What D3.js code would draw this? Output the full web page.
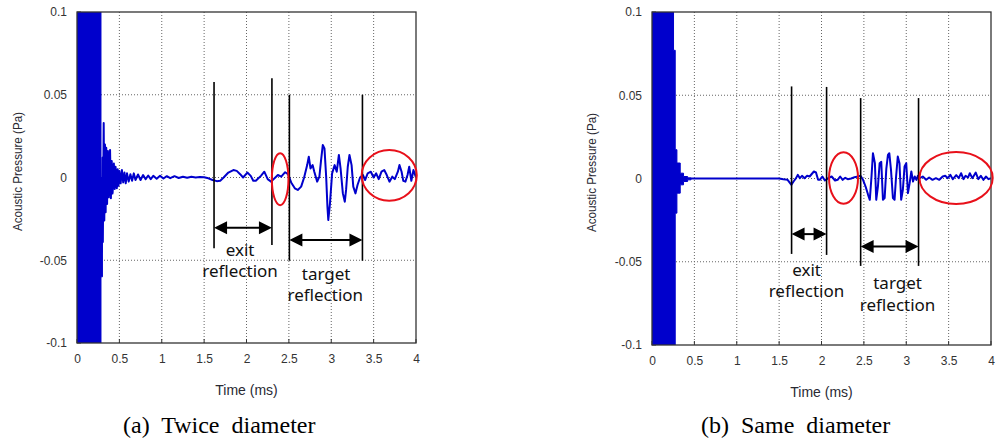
<!DOCTYPE html>
<html>
<head>
<meta charset="utf-8">
<title>Acoustic pressure</title>
<style>
  body { margin: 0; padding: 0; background: #fff; overflow: hidden; }
  svg { display: block; }
  .axis text { font-family: Arial, "Liberation Sans", sans-serif; font-size: 12px; fill: #333; }
  .axis path { display: none; }
  .axis-title { font-family: Arial, "Liberation Sans", sans-serif; fill: #2a2a33; }
  .note { font-family: "Noto Sans", sans-serif; font-size: 17px; fill: #111; }
  .caption { font-family: "Liberation Serif", "Times New Roman", serif; font-size: 24px; fill: #000; }
</style>
</head>
<body>
<div id="container"></div>
<script src="https://d3js.org/d3.v7.min.js"></script>
<script>
var width = 999, height = 442;

var xTicks = [0, 0.5, 1, 1.5, 2, 2.5, 3, 3.5, 4];
var yTicks = [-0.1, -0.05, 0, 0.05, 0.1];

// (a) twice diameter: saturated burst envelope, then the trace (t in ms, p in Pa)
var burstA_t  = [0, 0.283, 0.283, 0.30];
var burstA_hi = [0.12, 0.12, 0.0, 0.0];
var burstA_lo = [-0.12, -0.12, -0.06, -0.039];

var waveA_t = [0.285, 0.29, 0.30, 0.305, 0.315, 0.322, 0.33, 0.338, 0.345, 0.355, 0.365, 0.375, 0.39, 0.40, 0.41, 0.42,
  0.435, 0.445, 0.455, 0.47, 0.48, 0.49, 0.50, 0.515, 0.53, 0.545, 0.56, 0.575, 0.59, 0.61, 0.63, 0.65, 0.67, 0.69,
  0.72, 0.75, 0.78, 0.81, 0.84, 0.87, 0.9, 0.94, 0.98, 1.02, 1.06, 1.1, 1.15, 1.2, 1.25, 1.3, 1.35, 1.4, 1.45, 1.5,
  1.55, 1.6, 1.65, 1.69, 1.73, 1.786, 1.845, 1.885, 1.925, 1.96, 2.01, 2.05, 2.08, 2.11, 2.17, 2.21, 2.25, 2.29,
  2.34, 2.37, 2.41, 2.456, 2.49, 2.527, 2.57, 2.605, 2.645, 2.68, 2.716, 2.735, 2.755, 2.78, 2.80, 2.834, 2.86,
  2.88, 2.90, 2.92, 2.94, 2.955, 2.965, 2.985, 3.01, 3.04, 3.065, 3.09, 3.11, 3.137, 3.16, 3.175, 3.195, 3.215,
  3.24, 3.26, 3.286, 3.31, 3.34, 3.373, 3.40, 3.43, 3.467, 3.50, 3.53, 3.56, 3.593, 3.625, 3.655, 3.687, 3.72,
  3.75, 3.786, 3.805, 3.83, 3.85, 3.875, 3.90, 3.92, 3.945, 3.97, 4.0];
var waveA_p = [0.0, -0.045, 0.012, -0.039, 0.033, -0.026, 0.02, -0.021, 0.018, -0.016, 0.016, -0.012, 0.0166, -0.0125, 0.010, -0.0096,
  0.0085, -0.007, 0.0065, -0.0065, 0.005, -0.005, 0.004, -0.0035, 0.0045, -0.003, 0.003, -0.0035, 0.0025, -0.0025, 0.002, -0.002, 0.0025, -0.0015,
  0.0018, -0.0015, 0.0015, -0.001, 0.0012, -0.001, 0.001, -0.0008, 0.001, -0.0006, 0.0008, -0.0004, 0.0008, -0.0003, 0.0005, -0.0002, 0.0004, 0, 0.0003, 0.0002,
  -0.0005, -0.0015, -0.0022, -0.002, 0, 0.003, 0.0045, 0.004, 0.002, 0, 0.003, 0.001, -0.002, -0.002, 0.001, 0.0035, -0.001, -0.0025,
  0, 0.0015, 0.0005, 0.0032, 0.002, -0.003, -0.0065, -0.0075, -0.0055, 0, 0.0075, 0.0126, 0.0055, 0.0075, 0.0035, -0.0025, 0.0005,
  0.0105, 0.0196, 0.0176, 0.0005, -0.0176, -0.0257, -0.0156, 0.0025, 0.0075, 0.0035, 0.0136, 0.0055, -0.0096, -0.0146, -0.0075, 0.0065, 0.0136,
  0.0075, -0.0055, -0.0096, -0.0045, 0, 0.0015, -0.0015, 0.0025, 0.0035, 0, 0.0025, -0.001, 0.0035, 0.0045, 0.0015, -0.0025, 0.0005,
  -0.001, 0.0035, 0.0075, 0.0035, -0.002, -0.0025, 0.0015, 0.0065, -0.002, 0.0045, 0];

// (b) same diameter
var burstB_t  = [0, 0.254, 0.274, 0.294, 0.333, 0.372, 0.42, 0.46];
var burstB_hi = [0.12, 0.077, 0.0173, 0.0093, 0.0032, 0.0012, 0.0004, 0];
var burstB_lo = [-0.12, -0.12, -0.0208, -0.0088, -0.0038, -0.0018, -0.0008, 0];

var waveB_t = [0.46, 1.5, 1.55, 1.6, 1.645, 1.67, 1.70, 1.72, 1.745, 1.77, 1.80, 1.83, 1.86, 1.91, 1.935, 1.96, 1.98,
  2.01, 2.04, 2.08, 2.12, 2.16, 2.19, 2.22, 2.25, 2.28, 2.31, 2.35, 2.39, 2.43, 2.46, 2.49, 2.52, 2.55, 2.57, 2.59,
  2.607, 2.63, 2.646, 2.666, 2.686, 2.705, 2.725, 2.745, 2.765, 2.784, 2.80, 2.82, 2.843, 2.862, 2.88, 2.90, 2.92,
  2.94, 2.96, 2.98, 3.0, 3.02, 3.04, 3.06, 3.08, 3.10, 3.12, 3.137, 3.16, 3.195, 3.235, 3.27, 3.31, 3.35, 3.39, 3.43,
  3.46, 3.49, 3.52, 3.55, 3.59, 3.62, 3.647, 3.675, 3.70, 3.73, 3.75, 3.78, 3.82, 3.85, 3.88, 3.91, 3.94, 3.97, 4.0];
var waveB_p = [0, 0, -0.0005, -0.0008, -0.0038, -0.0018, 0.0002, 0.0022, 0.0002, 0.0016, 0.0002, 0.0016, 0.0012, 0.0042, 0.0036, -0.0008, -0.0008,
  0.0012, -0.0012, 0.0002, 0.0012, -0.0012, -0.0008, 0.0012, -0.0008, 0.0004, -0.0004, 0, 0.0008, 0.0012, 0.0016, -0.0008, -0.0048, -0.0098, -0.0128, 0.0012,
  0.0152, 0.0092, -0.0128, -0.0048, 0.0092, 0.010, -0.0128, -0.0118, 0.006, 0.0142, 0.0152, 0.0052, -0.0118, -0.0128, 0.0012, 0.0132, 0.0092,
  -0.0128, -0.0068, 0.0072, 0.0092, -0.0088, -0.0028, 0.0042, -0.0018, 0.0012, -0.0008, 0.0016, 0.0002, 0.0012, -0.0008, 0.0006, -0.0008, 0.0002, -0.0008, 0.0012,
  0.0016, 0.0002, 0.0022, -0.0004, 0.002, 0.0002, 0.0032, -0.0004, 0.0016, 0.0006, 0.0032, 0.0002, 0.0036, -0.0004, 0.0016, -0.0008, 0.0012, -0.0004, 0.0002];

// boundary markers (vertical lines), arrows, labels and red ellipses
var markA_t = [1.617, 2.30, 2.506, 3.368];
var markA_top = [0.0577, 0.060, 0.050, 0.050];
var markA_bot = [-0.0428, -0.0408, -0.0503, -0.0503];
var arrowA_from = [1.617, 2.506], arrowA_to = [2.30, 3.368], arrowA_p = [-0.0303, -0.0378];
var noteA_text = ["exit", "reflection", "target", "reflection"];
var noteA_t = [1.924, 1.924, 2.94, 2.93];
var noteA_p = [-0.0474, -0.0603, -0.0619, -0.0744];
var ringA_t = [2.397, 3.684], ringA_p = [-0.001, 0.0013], ringA_rt = [0.098, 0.325], ringA_rp = [0.0157, 0.0153];

var markB_t = [1.647, 2.06, 2.462, 3.145];
var markB_top = [0.0553, 0.055, 0.0483, 0.0483];
var markB_bot = [-0.0453, -0.0459, -0.0525, -0.0525];
var arrowB_from = [1.647, 2.462], arrowB_to = [2.06, 3.145], arrowB_p = [-0.0334, -0.0409];
var noteB_text = ["exit", "reflection", "target", "reflection"];
var noteB_t = [1.824, 1.822, 2.898, 2.898];
var noteB_p = [-0.0585, -0.0713, -0.0665, -0.0794];
var ringB_t = [2.26, 3.588], ringB_p = [0.0003, 0.0003], ringB_rt = [0.171, 0.432], ringB_rp = [0.0155, 0.0156];

var panels = [
  { id: "a", x0: 77, x1: 416, y0: 12, y1: 343, ylabX: 17, caption: "(a)  Twice  diameter", capX: 123,
    bt: burstA_t, bhi: burstA_hi, blo: burstA_lo, wt: waveA_t, wp: waveA_p,
    mt: markA_t, mtop: markA_top, mbot: markA_bot, af: arrowA_from, ato: arrowA_to, ap: arrowA_p,
    nText: noteA_text, nt: noteA_t, np: noteA_p, rt: ringA_t, rp: ringA_p, rrt: ringA_rt, rrp: ringA_rp },
  { id: "b", x0: 652, x1: 991, y0: 12, y1: 345, ylabX: 591, caption: "(b)  Same  diameter", capX: 701,
    bt: burstB_t, bhi: burstB_hi, blo: burstB_lo, wt: waveB_t, wp: waveB_p,
    mt: markB_t, mtop: markB_top, mbot: markB_bot, af: arrowB_from, ato: arrowB_to, ap: arrowB_p,
    nText: noteB_text, nt: noteB_t, np: noteB_p, rt: ringB_t, rp: ringB_p, rrt: ringB_rt, rrp: ringB_rp }
];

var blue = "#0000cc";

var svg = d3.select("#container").append("svg")
  .attr("width", width)
  .attr("height", height);

var defs = svg.append("defs");

panels.forEach(function (pn) {
  var x = d3.scaleLinear().domain([0, 4]).range([pn.x0, pn.x1]);
  var y = d3.scaleLinear().domain([-0.1, 0.1]).range([pn.y1, pn.y0]);
  var g = svg.append("g");

  defs.append("clipPath").attr("id", "clip-" + pn.id)
    .append("rect")
    .attr("x", pn.x0).attr("y", pn.y0)
    .attr("width", pn.x1 - pn.x0).attr("height", pn.y1 - pn.y0);

  // dotted grid
  g.selectAll(".vgrid").data(xTicks.slice(1, -1)).enter().append("line")
    .attr("x1", function (d) { return x(d); }).attr("x2", function (d) { return x(d); })
    .attr("y1", pn.y0).attr("y2", pn.y1)
    .style("stroke", "#666").style("stroke-width", 1).style("stroke-dasharray", "1,2");
  g.selectAll(".hgrid").data(yTicks.slice(1, -1)).enter().append("line")
    .attr("y1", function (d) { return y(d); }).attr("y2", function (d) { return y(d); })
    .attr("x1", pn.x0).attr("x2", pn.x1)
    .style("stroke", "#666").style("stroke-width", 1).style("stroke-dasharray", "1,2");

  // axes labels
  g.append("g").attr("class", "axis")
    .attr("transform", "translate(0," + pn.y1 + ")")
    .call(d3.axisBottom(x).tickValues(xTicks).tickSize(0).tickPadding(11)
      .tickFormat(function (d) { return String(d); }));
  g.append("g").attr("class", "axis")
    .attr("transform", "translate(" + pn.x0 + ",0)")
    .call(d3.axisLeft(y).tickValues(yTicks).tickSize(0).tickPadding(10)
      .tickFormat(function (d) { return String(d); }));

  // short inner ticks
  g.selectAll(".ytk").data(yTicks).enter().append("line")
    .attr("x1", pn.x0).attr("x2", pn.x0 + 4)
    .attr("y1", function (d) { return y(d); }).attr("y2", function (d) { return y(d); })
    .style("stroke", "#333");
  g.selectAll(".xtk").data(xTicks).enter().append("line")
    .attr("y1", pn.y1).attr("y2", pn.y1 - 4)
    .attr("x1", function (d) { return x(d); }).attr("x2", function (d) { return x(d); })
    .style("stroke", "#333");

  // signal
  var plot = g.append("g").attr("clip-path", "url(#clip-" + pn.id + ")");
  var burst = pn.bt.map(function (t, i) { return { t: t, hi: pn.bhi[i], lo: pn.blo[i] }; });
  plot.append("path")
    .datum(burst)
    .attr("d", d3.area().curve(d3.curveStepAfter)
      .x(function (d) { return x(d.t); })
      .y0(function (d) { return y(d.lo); })
      .y1(function (d) { return y(d.hi); }))
    .style("fill", blue).style("stroke", blue).style("stroke-width", 1);

  var wave = pn.wt.map(function (t, i) { return { t: t, p: pn.wp[i] }; });
  plot.append("path")
    .datum(wave)
    .attr("d", d3.line()
      .x(function (d) { return x(d.t); })
      .y(function (d) { return y(d.p); }))
    .style("fill", "none").style("stroke", blue).style("stroke-width", 2)
    .style("stroke-linejoin", "round");

  // frame
  g.append("rect")
    .attr("x", pn.x0).attr("y", pn.y0)
    .attr("width", pn.x1 - pn.x0).attr("height", pn.y1 - pn.y0)
    .style("fill", "none").style("stroke", "#333").style("stroke-width", 1.3);

  // annotations
  g.selectAll(".mark").data(pn.mt).enter().append("line")
    .attr("x1", function (d) { return x(d); }).attr("x2", function (d) { return x(d); })
    .attr("y1", function (d, i) { return y(pn.mtop[i]); })
    .attr("y2", function (d, i) { return y(pn.mbot[i]); })
    .style("stroke", "#000").style("stroke-width", 1.6);

  pn.af.forEach(function (t0, i) {
    var xa = x(t0), xb = x(pn.ato[i]), ya = y(pn.ap[i]);
    var ah = 13, aw = 6.5;
    g.append("line")
      .attr("x1", xa + ah - 1).attr("x2", xb - ah + 1)
      .attr("y1", ya).attr("y2", ya)
      .style("stroke", "#000").style("stroke-width", 2);
    g.append("path")
      .attr("d", "M" + xa + "," + ya + "L" + (xa + ah) + "," + (ya - aw) + "L" + (xa + ah) + "," + (ya + aw) + "Z")
      .style("fill", "#000");
    g.append("path")
      .attr("d", "M" + xb + "," + ya + "L" + (xb - ah) + "," + (ya - aw) + "L" + (xb - ah) + "," + (ya + aw) + "Z")
      .style("fill", "#000");
  });

  g.selectAll(".note").data(pn.nText).enter().append("text")
    .attr("class", "note")
    .attr("x", function (d, i) { return x(pn.nt[i]); })
    .attr("y", function (d, i) { return y(pn.np[i]); })
    .attr("text-anchor", "middle")
    .text(function (d) { return d; });

  g.selectAll(".ring").data(pn.rt).enter().append("ellipse")
    .attr("cx", function (d) { return x(d); })
    .attr("cy", function (d, i) { return y(pn.rp[i]); })
    .attr("rx", function (d, i) { return x(pn.rrt[i]) - x(0); })
    .attr("ry", function (d, i) { return y(0) - y(pn.rrp[i]); })
    .style("fill", "none").style("stroke", "#e8101a").style("stroke-width", 2);

  // titles
  g.append("text").attr("class", "axis-title")
    .attr("x", (pn.x0 + pn.x1) / 2).attr("y", pn.y1 + 52)
    .attr("text-anchor", "middle")
    .style("font-size", "14px")
    .text("Time (ms)");
  g.append("text").attr("class", "axis-title")
    .attr("transform", "translate(" + pn.ylabX + "," + ((pn.y0 + pn.y1) / 2 - 6) + ") rotate(-90)")
    .attr("text-anchor", "middle")
    .attr("dy", "0.35em")
    .attr("textLength", 119)
    .attr("lengthAdjust", "spacingAndGlyphs")
    .style("font-size", "13.5px")
    .text("Acoustic Pressure (Pa)");

  g.append("text").attr("class", "caption")
    .attr("x", pn.capX).attr("y", 433)
    .attr("xml:space", "preserve")
    .style("white-space", "pre")
    .text(pn.caption);
});
</script>
</body>
</html>
